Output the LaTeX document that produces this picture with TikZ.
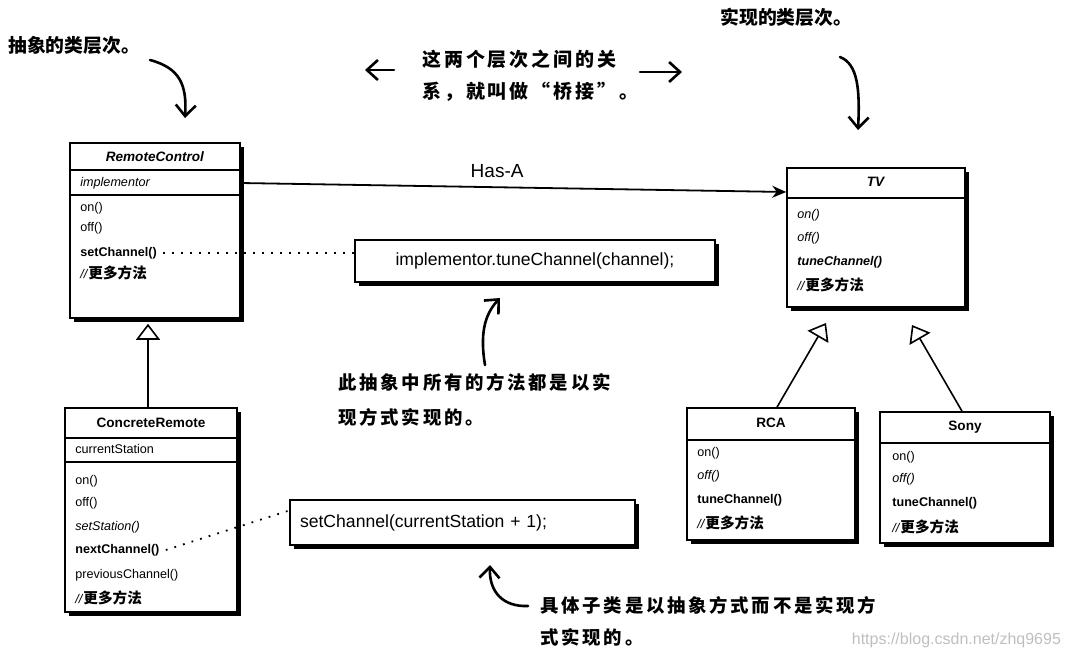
\documentclass[tikz,border=0pt]{standalone}
\usepackage{fontspec}
\setmainfont{Liberation Sans}
\newfontfamily\cjk{Noto Sans CJK SC}
\newfontfamily\hand[LetterSpace=15]{Noto Sans CJK SC}
\usetikzlibrary{arrows.meta,shadows}
\newcommand{\moremethods}{\textit{//}{\cjk\bfseries\fontsize{7.3}{8}\selectfont 更多方法}}

\begin{document}
\begin{tikzpicture}[x=0.5pt, y=-0.5pt,
	cls/.style={draw=black, thick, fill=white, drop shadow={shadow xshift=2pt, shadow yshift=-2pt, fill=black, opacity=1}},
	clsname/.style={inner sep=0pt, font=\fontsize{6.8}{8}\selectfont\bfseries},
	mem/.style={anchor=west, inner sep=0pt, font=\fontsize{6.3}{7.5}\selectfont},
	codebox/.style={cls, inner xsep=5pt, font=\fontsize{8.8}{10}\selectfont},
	notetext/.style={anchor=west, inner sep=0pt, align=left, font=\hand\bfseries\fontsize{9.2}{16}\selectfont},
	handarrow/.style={line width=1.3pt, line cap=round, -{Straight Barb[length=5.5pt, width=10pt]}},
	inherit/.style={thick, -{Triangle[width=12pt, length=8pt, fill=white]}},
	hasa/.style={line width=0.9pt, -{Stealth[length=7pt, width=6pt]}},
	dotlink/.style={line width=0.9pt, dash pattern=on 0.9pt off 3.6pt},
	divider/.style={thick}]
	\useasboundingbox (0,0) rectangle (1073,659);

	% abstraction side
	\node[cls, minimum width=85pt, minimum height=87.5pt] (rc) at (155,230.5){};
	\node[clsname] (rcname) at (155,157){\textit{RemoteControl}};
	\draw[divider] (rc.west |- 0,170) -- (rc.east |- 0,170);
	\draw[divider] (rc.west |- 0,195) -- (rc.east |- 0,195);
	\node[mem] (impl) at (80,183){\textit{implementor}};
	\node[mem] (rcon) at (80,208){on()};
	\node[mem] (rcoff) at (80,228){off()};
	\node[mem] (setch) at (80,253){\textbf{setChannel()}};
	\node[mem] (rcmore) at (80,273){\moremethods};

	\node[cls, minimum width=86pt, minimum height=102pt] (cr) at (151,510){};
	\node[clsname] (crname) at (151,423){ConcreteRemote};
	\draw[divider] (cr.west |- 0,438) -- (cr.east |- 0,438);
	\draw[divider] (cr.west |- 0,462) -- (cr.east |- 0,462);
	\node[mem] (station) at (75,449){currentStation};
	\node[mem] (cron) at (75,481){on()};
	\node[mem] (croff) at (75,503){off()};
	\node[mem] (setst) at (75,527){\textit{setStation()}};
	\node[mem] (nextch) at (75,550){\textbf{nextChannel()}};
	\node[mem] (prevch) at (75,575){previousChannel()};
	\node[mem] (crmore) at (75,598){\moremethods};

	% implementation side
	\node[cls, minimum width=89pt, minimum height=69.5pt] (tv) at (876,237.5){};
	\node[clsname] (tvname) at (876,182){\textit{TV}};
	\draw[divider] (tv.west |- 0,198) -- (tv.east |- 0,198);
	\node[mem] (tvon) at (797,215){\textit{on()}};
	\node[mem] (tvoff) at (797,238){\textit{off()}};
	\node[mem] (tvtune) at (797,262){\textbf{\textit{tuneChannel()}}};
	\node[mem] (tvmore) at (797,285){\moremethods};

	\node[cls, minimum width=84pt, minimum height=66pt] (rca) at (771,474){};
	\node[clsname] (rcaname) at (771,423){RCA};
	\draw[divider] (rca.west |- 0,440) -- (rca.east |- 0,440);
	\node[mem] (rcaon) at (697,453){on()};
	\node[mem] (rcaoff) at (697,476){\textit{off()}};
	\node[mem] (rcatune) at (697,500){\textbf{tuneChannel()}};
	\node[mem] (rcamore) at (697,523){\moremethods};

	\node[cls, minimum width=85pt, minimum height=65.5pt] (sony) at (965,477.5){};
	\node[clsname] (sonyname) at (965,427){Sony};
	\draw[divider] (sony.west |- 0,443) -- (sony.east |- 0,443);
	\node[mem] (sonyon) at (892,457){on()};
	\node[mem] (sonyoff) at (892,479){\textit{off()}};
	\node[mem] (sonytune) at (892,503){\textbf{tuneChannel()}};
	\node[mem] (sonymore) at (892,527){\moremethods};

	% code notes
	\node[codebox, minimum width=180pt, minimum height=21pt] (tune) at (535,261){implementor.tuneChannel(channel);};
	\node[codebox, minimum height=22.5pt, text width=162.5pt, align=left] (next) at (462.5,522.5){setChannel(currentStation + 1);};

	% connectors
	\draw[hasa] (impl -| rc.east) -- ([yshift=22.75pt]tv.west) node[pos=0.47, above=1pt, font=\fontsize{9.5}{11}\selectfont] (hasalabel) {Has-A};
	\draw[inherit] ([xshift=-1.5pt]cr.north) -- ([xshift=-3.5pt, yshift=-2.5pt]rc.south);
	\coordinate (tvL) at (826,323);
	\coordinate (tvR) at (912,325);
	\draw[inherit] ([xshift=3pt]rca.north) -- (tvL);
	\draw[inherit] ([xshift=-1.5pt]sony.north) -- (tvR);
	\draw[dotlink] ([xshift=3pt]setch.east) -- (tune.west |- setch.east);
	\draw[dotlink] ([xshift=3pt]nextch.east) -- ([yshift=6pt]next.west);

	% handwritten notes
	\node[notetext, font=\cjk\bfseries\fontsize{9.4}{16}\selectfont] (absnote) at (8,45){抽象的类层次。};
	\node[notetext, font=\cjk\bfseries\fontsize{9.4}{16}\selectfont] (impnote) at (720,17){实现的类层次。};
	\node[notetext, font=\hand\bfseries\fontsize{9.5}{16}\selectfont, text depth=0pt] (brg) at (422,74){这两个层次之间的关\\系，就叫做“桥接”。};
	\node[notetext] (allnote) at (338,400){此抽象中所有的方法都是以实\\[1.5pt]现方式实现的。};
	\node[notetext] (subnote) at (540,621){具体子类是以抽象方式而不是实现方\\式实现的。};

	\coordinate (absS) at (150,60);
	\coordinate (absT) at (185,118);
	\coordinate (impS) at (840,57);
	\coordinate (impT) at (858,130);
	\coordinate (brgL) at (365,70);
	\coordinate (brgR) at (682,72);
	\coordinate (allS) at (485,365);
	\coordinate (allT) at (500,298);
	\coordinate (subS) at (528,606);
	\coordinate (subT) at (490,565);
	\draw[handarrow] (absS) .. controls (180,68) and (187,85) .. (absT);
	\draw[handarrow] (impS) .. controls (858,64) and (860,90) .. (impT);
	\draw[handarrow] ([xshift=-14pt]brg.west |- brgL) -- (brgL);
	\draw[handarrow] ([xshift=-21pt]brgR) -- (brgR);
	\draw[handarrow] (allS) .. controls (480,335) and (484,315) .. (allT);
	\draw[handarrow] (subS) .. controls (503,607) and (489,592) .. (subT);

	\node[anchor=east, text=black!25, font=\fontsize{8}{9}\selectfont] (mark) at (1068,640){https://blog.csdn.net/zhq9695};
\end{tikzpicture}
\end{document}
